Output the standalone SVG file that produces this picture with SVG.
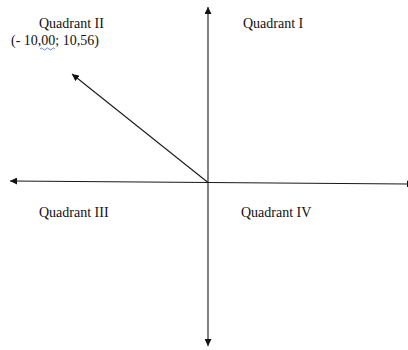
<svg xmlns="http://www.w3.org/2000/svg" width="408" height="350" viewBox="0 0 408 350">
<defs>
<style>
.ax{stroke:#1a1a1a;stroke-width:1.1;fill:none}
.lbl{font-family:"Liberation Serif","Times New Roman",serif;font-size:14px;fill:#111}
</style>
<marker id="ah" viewBox="0 0 10 10" refX="10" refY="5" markerWidth="7" markerHeight="7" markerUnits="userSpaceOnUse" orient="auto">
<path d="M0,0 L10,5 L0,10 Z" fill="#111"/>
</marker>
</defs>
<rect width="408" height="350" fill="#fff"/>
<g id="connectors">
<line class="ax" x1="208" y1="182" x2="208" y2="7" marker-end="url(#ah)"/>
<line class="ax" x1="208" y1="182" x2="208" y2="346" marker-end="url(#ah)"/>
<line class="ax" x1="208" y1="182.5" x2="10" y2="181" marker-end="url(#ah)"/>
<line class="ax" x1="208" y1="182.5" x2="414" y2="184" marker-end="url(#ah)"/>
<line class="ax" x1="208" y1="182.5" x2="72" y2="74" marker-end="url(#ah)"/>
</g>
<g id="q2">
<text class="lbl" x="39" y="28">Quadrant II</text>
<text class="lbl" x="11" y="45">(- 10,00; 10,56)</text>
<path d="M40,49 q1.5,-2 3,0 t3,0 t3,0 t3,0 t3,0" stroke="#4a5fd8" stroke-width="0.8" fill="none"/>
</g>
<g id="q1"><text class="lbl" x="243" y="28">Quadrant I</text></g>
<g id="q3"><text class="lbl" x="39" y="217">Quadrant III</text></g>
<g id="q4"><text class="lbl" x="241" y="217">Quadrant IV</text></g>
</svg>
